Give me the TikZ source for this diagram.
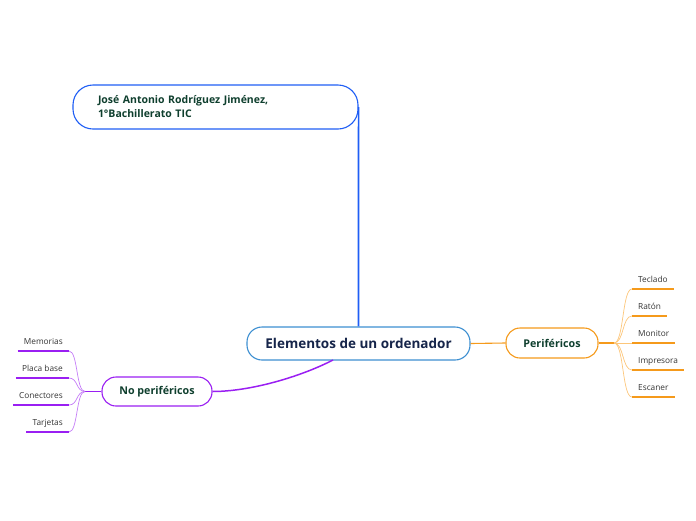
\documentclass[tikz,border=0pt]{standalone}
\usepackage{fontspec}
\setmainfont{Open Sans}
\usepackage{tikz}
\definecolor{autorazul}{HTML}{1F5EF5}
\definecolor{azulcentro}{HTML}{3D8FD1}
\definecolor{azuloscuro}{HTML}{16254A}
\definecolor{textoverde}{HTML}{0F3F2E}
\definecolor{textogris}{HTML}{333333}
\definecolor{naranja}{HTML}{F59A1B}
\definecolor{naranjaclaro}{HTML}{FCC67A}
\definecolor{morado}{HTML}{9A1FF2}
\definecolor{moradoclaro}{HTML}{C47CF7}

\begin{document}
\begin{tikzpicture}[x=1pt,y=-1pt,
    caja/.style={draw, fill=white, line width=1.1pt, rounded corners=14pt, text=textoverde,
      font=\bfseries\fontsize{10.7}{14}\selectfont},
    hojad/.style={anchor=south west, inner xsep=6pt, inner ysep=4.5pt, text height=1.5ex,
      text depth=0.3ex, text=textogris, font=\fontsize{8.3}{10}\selectfont},
    hojai/.style={hojad, anchor=south east},
    subd/.style={naranja, line width=1.6pt},
    ramad/.style={naranjaclaro, line width=0.7pt},
    subi/.style={morado, line width=1.6pt},
    ramai/.style={moradoclaro, line width=0.7pt}]
  \useasboundingbox (0,0) rectangle (696,520);

  \node[caja, draw=autorazul, rounded corners=20pt, minimum height=44pt, text width=235pt,
    inner xsep=25pt, align=left, font=\bfseries\fontsize{10.5}{14}\selectfont] (autor) at (215.5,107)
    {José Antonio Rodríguez Jiménez,\\ 1°Bachillerato TIC};
  \node[caja, draw=azulcentro, text=azuloscuro, font=\bfseries\fontsize{13.5}{16}\selectfont,
    minimum width=223pt, minimum height=33pt, rounded corners=15pt] (centro) at (358.5,343.5)
    {Elementos de un ordenador};
  \node[caja, draw=naranja, minimum width=92pt, minimum height=30pt] (perif) at (552,343) {Periféricos};
  \node[caja, draw=morado, minimum width=110pt, minimum height=29pt] (noperif) at (157,391.5) {No periféricos};

  \coordinate (cbajo) at (333,360);
  \coordinate (fperif) at (614,343);
  \coordinate (fnoperif) at (85,391.5);

  \draw[autorazul, line width=1.6pt] (autor.east) -- (centro.north);
  \draw[naranja, line width=1.1pt] (centro.east) -- (perif.west);
  \draw[morado, line width=1.5pt] (cbajo) .. controls (300,377) and (250,391.5) .. (noperif.east);
  \draw[naranja, line width=1.1pt] (perif.east) -- (fperif);
  \draw[morado, line width=1.1pt] (noperif.west) -- (fnoperif);

  \node[hojad] (teclado) at (632,289) {Teclado};
  \node[hojad] (raton) at (632,316) {Ratón};
  \node[hojad] (monitor) at (632,343) {Monitor};
  \node[hojad] (impresora) at (632,370) {Impresora};
  \node[hojad] (escaner) at (632,397) {Escaner};
  \draw[ramad] (fperif) .. controls (624,343) and (622,289) .. (teclado.south west);
  \draw[ramad] (fperif) .. controls (624,343) and (622,316) .. (raton.south west);
  \draw[ramad] (fperif) -- (monitor.south west);
  \draw[ramad] (fperif) .. controls (624,343) and (622,370) .. (impresora.south west);
  \draw[ramad] (fperif) .. controls (624,343) and (622,397) .. (escaner.south west);
  \draw[subd] (teclado.south west) -- (teclado.south east);
  \draw[subd] (raton.south west) -- (raton.south east);
  \draw[subd] (monitor.south west) -- (monitor.south east);
  \draw[subd] (impresora.south west) -- (impresora.south east);
  \draw[subd] (escaner.south west) -- (escaner.south east);

  \node[hojai] (memorias) at (69,351) {Memorias};
  \node[hojai] (placa) at (69,378) {Placa base};
  \node[hojai] (conectores) at (69,405) {Conectores};
  \node[hojai] (tarjetas) at (69,432) {Tarjetas};
  \draw[ramai] (fnoperif) .. controls (76,391.5) and (78,351) .. (memorias.south east);
  \draw[ramai] (fnoperif) .. controls (76,391.5) and (78,378) .. (placa.south east);
  \draw[ramai] (fnoperif) .. controls (76,391.5) and (78,405) .. (conectores.south east);
  \draw[ramai] (fnoperif) .. controls (76,391.5) and (78,432) .. (tarjetas.south east);
  \draw[subi] (memorias.south west) -- (memorias.south east);
  \draw[subi] (placa.south west) -- (placa.south east);
  \draw[subi] (conectores.south west) -- (conectores.south east);
  \draw[subi] (tarjetas.south west) -- (tarjetas.south east);
\end{tikzpicture}
\end{document}
